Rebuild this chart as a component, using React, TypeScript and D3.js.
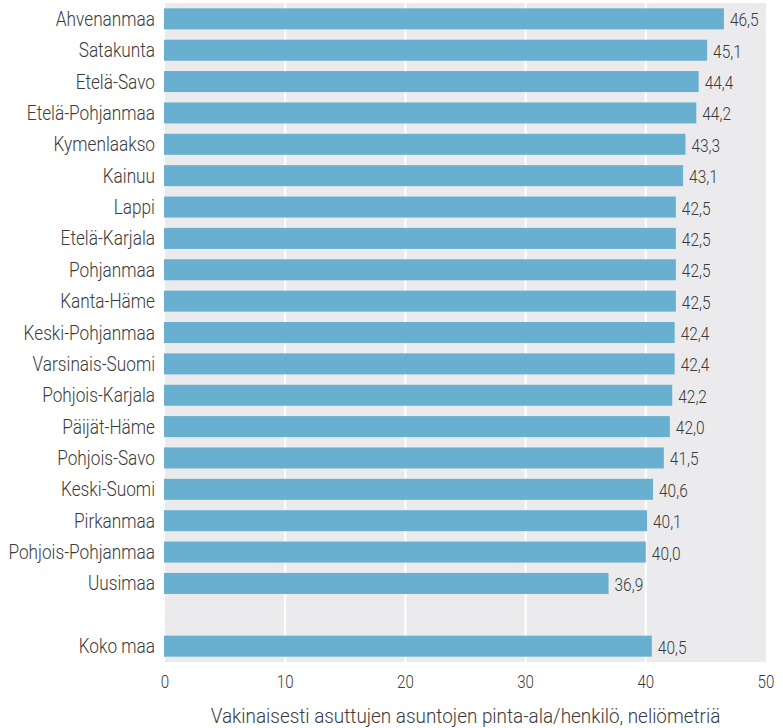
import React from "react";
import * as d3 from "d3";

const categories = [
  "Ahvenanmaa", "Satakunta", "Etelä-Savo", "Etelä-Pohjanmaa", "Kymenlaakso", "Kainuu",
  "Lappi", "Etelä-Karjala", "Pohjanmaa", "Kanta-Häme", "Keski-Pohjanmaa", "Varsinais-Suomi",
  "Pohjois-Karjala", "Päijät-Häme", "Pohjois-Savo", "Keski-Suomi", "Pirkanmaa",
  "Pohjois-Pohjanmaa", "Uusimaa", "", "Koko maa",
];
const values: (number | null)[] = [
  46.5, 45.1, 44.4, 44.2, 43.3, 43.1, 42.5, 42.5, 42.5, 42.5, 42.4, 42.4, 42.2, 42.0, 41.5,
  40.6, 40.1, 40.0, 36.9, null, 40.5,
];
const xTicks = [0, 10, 20, 30, 40, 50];
const xTitle = "Vakinaisesti asuttujen asuntojen pinta-ala/henkilö, neliömetriä";

const W = 783, H = 728;
const FONT = "Roboto, 'Liberation Sans', Arial, sans-serif";
const TEXT = "#3a3a3a";

function NText({ x, y, sx, size, anchor, children }: any) {
  return (
    <g transform={`translate(${x},${y}) scale(${sx},1)`}>
      <text x={0} y={0} textAnchor={anchor} fontSize={size} fill={TEXT} fontWeight={300}>
        {children}
      </text>
    </g>
  );
}

export default function App() {
  const x = d3.scaleLinear().domain([0, 50]).range([165, 766]);
  const y = d3.scaleBand<string>()
    .domain(categories.map((c, i) => String(i)))
    .range([3, 662])
    .paddingInner(0.33)
    .paddingOuter(0.17);
  const fmt = (v: number) => v.toFixed(1).replace(".", ",");
  const bw = y.bandwidth();
  return (
    <svg width={W} height={H} style={{ position: "absolute", left: 0, top: 0 }} fontFamily={FONT}>
      <rect x={x(0)} y={3} width={x(50) - x(0)} height={659} fill="#ebebed" />
      {xTicks.slice(1, -1).map((t) => (
        <line key={t} x1={x(t)} x2={x(t)} y1={3} y2={662} stroke="#ffffff" strokeWidth={2} />
      ))}
      {categories.map((c, i) => {
        const v = values[i];
        const yy = y(String(i))!;
        return (
          <g key={i}>
            {c && (
              <NText x={155} y={yy + bw / 2 + 7} sx={0.82} size={21} anchor="end">
                {c}
              </NText>
            )}
            {v != null && (
              <>
                <rect x={x(0) - 1} y={yy} width={x(v) - x(0) + 1} height={bw} fill="#68afd0" />
                <NText x={x(v) + 6} y={yy + bw / 2 + 7.5} sx={0.86} size={18} anchor="start">
                  {fmt(v)}
                </NText>
              </>
            )}
          </g>
        );
      })}
      {xTicks.map((t) => (
        <NText key={t} x={x(t)} y={688} sx={0.84} size={18} anchor="middle">
          {t}
        </NText>
      ))}
      <NText x={(x(0) + x(50)) / 2} y={723} sx={0.9} size={21} anchor="middle">
        {xTitle}
      </NText>
    </svg>
  );
}
